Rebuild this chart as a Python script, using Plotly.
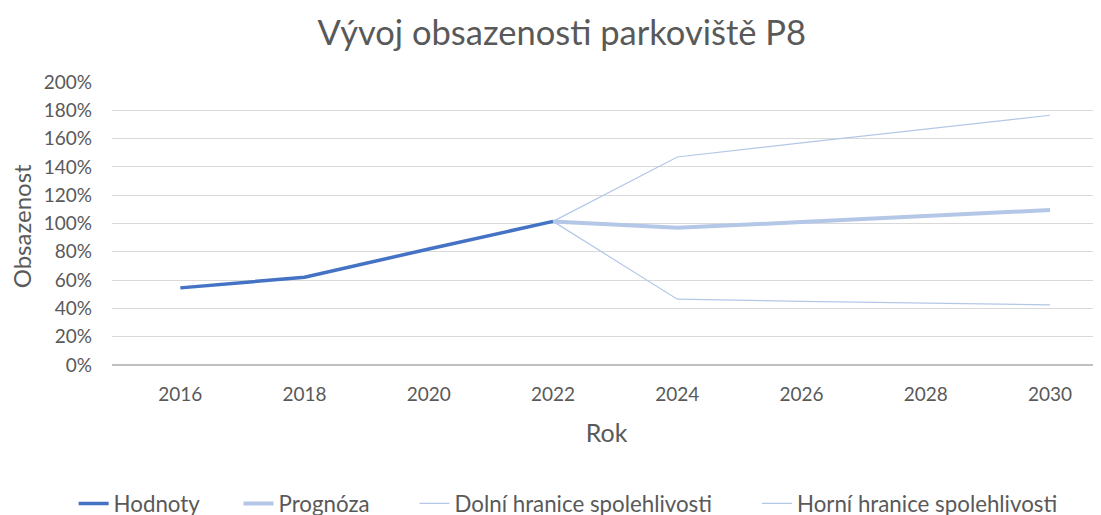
import plotly.graph_objects as go

years_obs = [2016, 2018, 2020, 2022]
hodnoty = [0.545, 0.62, 0.82, 1.015]
years_fc = [2022, 2024, 2026, 2028, 2030]
prognoza = [1.015, 0.97, 1.01, 1.05, 1.095]
dolni = [1.015, 0.465, 0.45, 0.435, 0.425]
horni = [1.015, 1.47, 1.57, 1.67, 1.765]
x_ticks = [2016, 2018, 2020, 2022, 2024, 2026, 2028, 2030]
y_ticks = [0, 0.2, 0.4, 0.6, 0.8, 1.0, 1.2, 1.4, 1.6, 1.8, 2.0]
series_names = ["Hodnoty", "Prognóza", "Dolní hranice spolehlivosti", "Horní hranice spolehlivosti"]

FONT = "Lato"
TXT = "#595959"
NB = "\u00a0"

fig = go.Figure()
fig.add_trace(go.Scatter(x=years_obs, y=hodnoty, mode="lines", name=series_names[0] + NB * 6,
                         line=dict(color="#4472C4", width=3.5)))
fig.add_trace(go.Scatter(x=years_fc, y=prognoza, mode="lines", name=series_names[1] + NB * 7,
                         line=dict(color="#B4C7E7", width=4)))
fig.add_trace(go.Scatter(x=years_fc, y=dolni, mode="lines", name=series_names[2] + NB * 7,
                         line=dict(color="#B4C7E7", width=1.2)))
fig.add_trace(go.Scatter(x=years_fc, y=horni, mode="lines", name=series_names[3],
                         line=dict(color="#B4C7E7", width=1.2)))

fig.update_layout(
    width=1101, height=515,
    margin=dict(l=104, r=8, t=74, b=158),
    paper_bgcolor="white", plot_bgcolor="white",
    font=dict(family=FONT, color=TXT, size=18),
    title=dict(text="Vývoj obsazenosti parkoviště P8", x=0.503, xanchor="center",
               y=0.975, yanchor="top", font=dict(size=34.5, color=TXT, family=FONT)),
    showlegend=True,
    legend=dict(orientation="h", xref="container", x=0.0596, xanchor="left",
                yref="container", y=0.038, yanchor="middle",
                font=dict(size=22.3, color=TXT, family=FONT), itemwidth=30,
                traceorder="normal"),
    hovermode=False,
    annotations=[dict(text="Obsazenost", textangle=-90, xref="paper", yref="paper",
                      x=-0.092, y=0.49, xanchor="center", yanchor="middle",
                      showarrow=False, font=dict(size=24, color=TXT, family=FONT))],
)
fig.update_xaxes(
    range=[2014.9, 2030.82], tickvals=x_ticks, ticktext=[str(v) for v in x_ticks],
    showgrid=False, showline=False, zeroline=False, ticks="", automargin=False,
    tickfont=dict(size=19, color=TXT), ticklabelstandoff=16,
    title=dict(text="Rok", font=dict(size=25, color=TXT), standoff=20),
)
fig.update_yaxes(
    range=[0, 2.0], tickvals=y_ticks, tickformat=".0%", automargin=False,
    showgrid=True, gridcolor="#D9D9D9", gridwidth=1,
    zeroline=True, zerolinecolor="#BFBFBF", zerolinewidth=1.5,
    showline=False, ticks="", tickfont=dict(size=19, color=TXT),
    ticklabelstandoff=19,
)

fig.write_html("out.html")
